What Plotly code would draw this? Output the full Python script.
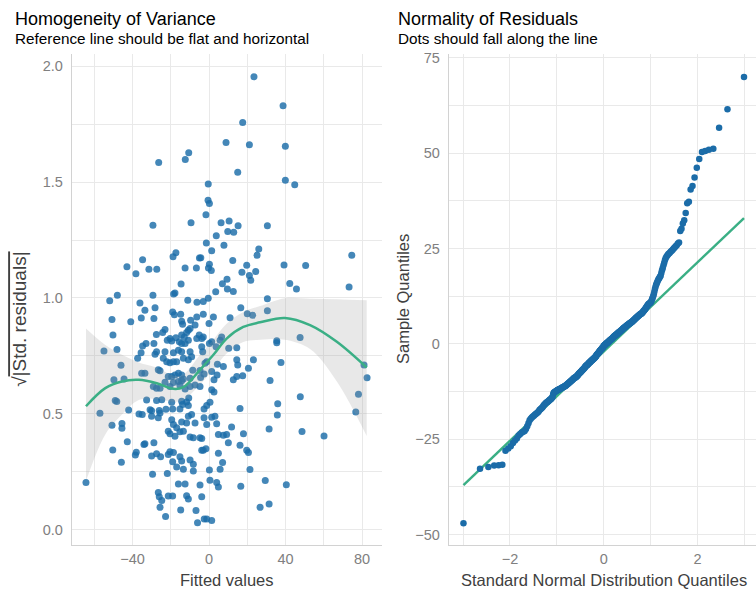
import plotly.graph_objects as go
from statistics import NormalDist

# ---------------------------------------------------------------------------
# Homogeneity of variance: fitted values vs sqrt(|standardized residuals|)
# ---------------------------------------------------------------------------
fitted_values = [
    23.5, 38.7, 17.6, 8.9, 21.1, 39.9, -10.6, -12.4, -26.3, 15.0,
    39.9, 44.8, -0.4, -0.5, 0.2, -1.6, -29.3, -9.4, 6.3, 10.5,
    15.2, 30.5, 9.8, 12.9, 3.8, -1.4, 7.8, 1.4, 26.0, -17.3,
    -18.8, 74.6, -4.3, -5.0, 25.1, -34.7, 12.4, -42.9, -31.4, -27.3,
    -12.5, -6.6, 0.2, -0.3, 1.2, 19.7, 39.2, 50.5, -38.2, 17.2,
    21.1, 24.4, 21.8, 9.4, 7.0, -14.6, 9.6, 12.7, -17.8, -18.5,
    42.2, 45.7, 73.2, -29.3, -47.9, 3.5, -0.4, -11.1, -6.3, 30.5,
    -51.9, -36.1, -50.7, -40.9, -35.4, -50.2, -54.9, -48.1, -35.5, -37.3,
    -46.0, -49.7, -44.4, -49.0, -48.2, -42.0, -57.0, -36.6, -50.7, -45.5,
    -45.5, -42.7, -50.3, -38.0, -38.5, -45.8, -64.3, -34.0,
    -28.2, -33.5, -19.0, -18.1, -14.8, -28.8, -14.3, -13.8, -9.6, -6.4,
    -7.3, -23.0, -24.2, -27.5, -28.8, -32.9, -34.7, -21.8, -20.4, -19.5,
    -17.3, -15.5, -14.3, -12.9, -11.7, -10.8, -9.9, -14.3, -12.5, -10.8,
    -6.4, -5.1, -3.8, -28.2, -27.4, -23.0, -18.6, -16.0, -14.3, -9.9,
    -3.8, -23.9, -22.1, -20.4, -18.6, -16.9, -13.4, -10.8, -9.1, -35.2,
    -33.5, -26.5, -25.6, -21.3, -19.5, -17.8, -16.0, -14.3, -8.5, -4.7,
    -23.0, -18.6, -16.0, -14.3, -13.4, -9.9, -29.1, -27.4, -25.6, -20.4,
    -15.2, -12.5, -9.9, -7.3, -4.7, -32.6, -27.4, -24.7, -19.5, -14.3,
    -11.7, -10.6, -10.8, -30.8, -30.0, -26.0, -22.5, -19.0, -15.2, -13.8,
    -3.0, -3.0, 2.3, 0.0, 16.6, 20.0, 22.8, 11.0, -3.0, 6.6,
    5.8, 1.4, 0.2, 3.7, 10.3, 14.5, -3.3, 23.2, 14.5, 15.0,
    4.4, 7.5, -1.2, -2.1, 1.4, 2.6, 12.7, 14.5, 17.6, 20.6,
    1.4, 2.6, 0.5, -1.2, -2.6, 16.2, -4.4, -2.6, 4.2, 30.5,
    -34.9, -30.0, -26.5, -25.6, -19.5, -18.6, -16.9, -14.3, -11.7, -10.8,
    -9.1, -7.3, -21.3, -20.4, -17.8, -15.2, -13.4, -9.9, -8.2, -4.7,
    -33.5, -28.8, -30.0, -27.4, -25.3, -21.3, -20.4, -18.6, -15.2, -14.3,
    -19.0, -16.9, -13.4, -9.9, -8.2, -8.2, -3.8, -29.5, -21.8, -16.0,
    -12.5, -4.7, -26.5, -26.0, -24.7, -25.6, -21.3, -19.0, -11.7, -10.8,
    -14.8, -6.8, -22.7, -6.0, -2.5,
    -2.6, 1.4, 3.1, -1.2, 4.0, 11.8, 4.9, 7.5, 9.2, 18.0,
    10.1, 16.2, 19.7, 20.6, -3.8, -3.0, -1.6, 4.9, 7.1, 5.8,
    0.2, 21.4, 0.5, 4.0, 4.9, -3.8, 16.6, -1.2, 1.4,
    35.4, 35.4, 47.6, 37.6, 31.9, 35.9, 35.7, 47.7, 31.4, 48.6,
    60.1, 81.0, 82.6, 78.1, 76.7, 29.4, 40.4, 31.4, 26.7,
]
sqrt_abs_std_residuals = [
    1.954, 1.829, 1.757, 1.671, 1.661, 1.655, 1.626, 1.597, 1.584, 1.542,
    1.508, 1.489, 1.492, 1.422, 1.408, 1.359, 1.314, 1.325, 1.325, 1.332,
    1.312, 1.312, 1.287, 1.284, 1.268, 1.237, 1.227, 1.204, 1.211, 1.195,
    1.178, 1.184, 1.174, 1.172, 1.184, 1.165, 1.162, 1.135, 1.124, 1.124,
    1.129, 1.129, 1.145, 1.129, 1.119, 1.141, 1.142, 1.140, 1.104, 1.111,
    1.097, 1.114, 1.077, 1.081, 1.061, 1.060, 1.039, 1.028, 1.021, 1.017,
    1.063, 1.039, 1.047, 1.012, 1.012, 1.027, 0.999, 0.990, 0.982, 0.997,
    0.988, 0.978, 0.907, 0.897, 0.914, 0.840, 0.771, 0.778, 0.764, 0.740,
    0.710, 0.647, 0.651, 0.558, 0.553, 0.517, 0.503, 0.500, 0.451, 0.458,
    0.438, 0.380, 0.344, 0.335, 0.323, 0.291, 0.204, 0.368,
    0.958, 0.947, 0.940, 0.928, 0.930, 0.911, 0.900, 0.887, 0.904, 0.918,
    0.883, 0.864, 0.851, 0.842, 0.804, 0.804, 0.793, 0.818, 0.825, 0.814,
    0.828, 0.811, 0.840, 0.832, 0.851, 0.861, 0.868, 0.804, 0.804, 0.818,
    0.825, 0.840, 0.825, 0.757, 0.768, 0.768, 0.764, 0.775, 0.768, 0.768,
    0.790, 0.740, 0.725, 0.721, 0.725, 0.725, 0.740, 0.733, 0.747, 0.675,
    0.675, 0.690, 0.686, 0.661, 0.661, 0.668, 0.675, 0.668, 0.688, 0.687,
    0.637, 0.635, 0.640, 0.643, 0.651, 0.654, 0.618, 0.611, 0.611, 0.618,
    0.623, 0.607, 0.618, 0.625, 0.618, 0.560, 0.558, 0.561, 0.550, 0.554,
    0.551, 0.568, 0.536, 0.518, 0.513, 0.515, 0.520, 0.521, 0.521, 0.540,
    0.985, 0.930, 0.918, 0.890, 0.958, 0.932, 0.925, 0.915, 0.832, 0.832,
    0.818, 0.811, 0.804, 0.790, 0.783, 0.785, 0.768, 0.733, 0.733, 0.711,
    0.714, 0.704, 0.725, 0.718, 0.683, 0.647, 0.647, 0.661, 0.665, 0.697,
    0.604, 0.594, 0.550, 0.536, 0.521, 0.523, 0.657, 0.672, 0.668, 0.945,
    0.497, 0.490, 0.483, 0.504, 0.475, 0.454, 0.440, 0.465, 0.461, 0.490,
    0.497, 0.461, 0.425, 0.414, 0.404, 0.423, 0.425, 0.400, 0.397, 0.397,
    0.371, 0.375, 0.318, 0.328, 0.315, 0.325, 0.337, 0.333, 0.315, 0.297,
    0.294, 0.271, 0.261, 0.301, 0.283, 0.254, 0.343, 0.240, 0.243, 0.197,
    0.197, 0.193, 0.161, 0.143, 0.126, 0.097, 0.146, 0.146, 0.147, 0.133,
    0.085, 0.083, 0.057, 0.030, 0.047,
    0.483, 0.485, 0.490, 0.454, 0.457, 0.443, 0.411, 0.408, 0.411, 0.414,
    0.375, 0.365, 0.343, 0.333, 0.394, 0.343, 0.350, 0.330, 0.290, 0.261,
    0.258, 0.260, 0.214, 0.204, 0.185, 0.143, 0.188, 0.047, 0.040,
    0.815, 0.807, 0.829, 0.722, 0.644, 0.544, 0.495, 0.574, 0.435, 0.424,
    0.405, 0.711, 0.656, 0.585, 0.508, 0.213, 0.194, 0.111, 0.097,
]

# loess smooth of the scale-location plot and its confidence band
smooth_x = [-64.3, -54.2, -45.5, -36.7, -27.3, -18.7, -13.4, -4.7,
            2.2, 9.2, 17.9, 26.7, 39.7, 52.8, 66.8, 82.4]
smooth_y = [0.533, 0.611, 0.640, 0.647, 0.632, 0.608, 0.615, 0.690,
            0.754, 0.825, 0.875, 0.895, 0.914, 0.883, 0.811, 0.700]
smooth_lower = [0.21, 0.411, 0.497, 0.560, 0.565, 0.552, 0.560, 0.627,
                0.690, 0.761, 0.810, 0.820, 0.820, 0.780, 0.640, 0.405]
smooth_upper = [0.868, 0.797, 0.755, 0.722, 0.700, 0.665, 0.670, 0.755,
                0.820, 0.889, 0.940, 0.965, 0.999, 0.997, 0.995, 0.990]

# ---------------------------------------------------------------------------
# Normality of residuals: sample residuals (sorted) for the QQ plot
# ---------------------------------------------------------------------------
residuals = [
    -47.0, -32.7, -32.3, -31.9, -31.8, -31.7, -28.0, -27.4, -26.8, -26.0,
    -25.3, -24.8, -24.0, -23.6, -23.2, -23.0, -22.8, -22.3, -21.6, -20.8,
    -20.0, -19.6, -19.3, -19.0, -18.8, -18.6, -18.4, -18.2, -18.0, -17.8,
    -17.4, -17.2, -17.0, -16.8, -16.6, -16.3, -16.0, -15.8, -15.6, -15.4,
    -15.3, -15.2,
    -15.0, -14.9, -14.7, -14.6, -14.5, -14.3, -14.1, -13.9, -13.2, -12.8,
    -12.7, -12.6, -12.5, -12.4, -12.3, -12.2,
    -12.1, -12.0, -12.0, -11.9, -11.8, -11.8, -11.7, -11.6, -11.5, -11.5,
    -11.4, -11.3, -11.3, -11.2, -11.1, -11.0, -11.0, -10.9, -10.8,
    -10.7, -10.6, -10.5, -10.4, -10.3, -10.2, -10.1, -10.0, -9.9, -9.8,
    -9.7, -9.6, -9.5, -9.4, -9.3, -9.2, -9.1, -9.0, -8.9, -8.9, -8.8, -8.8,
    -8.7, -8.6, -8.5, -8.4, -8.3, -8.2, -8.0, -7.9, -7.8, -7.7,
    -7.6, -7.5, -7.4, -7.3, -7.2, -7.1, -7.0, -6.9, -6.8, -6.7,
    -6.6, -6.5, -6.4, -6.3, -6.2, -6.0,
    -5.9, -5.8, -5.7, -5.6, -5.6, -5.5, -5.4, -5.3, -5.2, -5.1,
    -5.0, -4.9, -4.9, -4.8, -4.7, -4.6, -4.5, -4.4, -4.3, -4.3,
    -4.2, -4.1, -4.0, -3.9, -3.8, -3.8, -3.7,
    -3.6, -3.5, -3.4, -3.3, -3.2, -3.0, -2.9, -2.8, -2.7, -2.6,
    -2.5, -2.4, -2.3, -2.2, -2.0, -1.9, -1.8, -1.7, -1.6, -1.5,
    -1.4, -1.3, -1.2, -1.1, -1.0, -0.9, -0.8, -0.6,
    -0.5, -0.4, -0.3, -0.3, -0.2, -0.1, 0.0, 0.1, 0.1, 0.2,
    0.3, 0.4, 0.4, 0.5, 0.6, 0.7, 0.7, 0.8, 0.9, 1.0,
    1.0, 1.1, 1.2, 1.3, 1.3, 1.4, 1.5, 1.6, 1.7,
    1.8, 1.9, 2.0, 2.0, 2.1, 2.2, 2.3, 2.3, 2.4, 2.5,
    2.6, 2.6, 2.7, 2.8, 2.9, 2.9, 3.0, 3.1, 3.2, 3.2,
    3.3, 3.4, 3.5, 3.5, 3.6, 3.7, 3.8,
    3.9, 4.0, 4.1, 4.2, 4.2, 4.3, 4.4, 4.5, 4.5, 4.6,
    4.7, 4.8, 4.8, 4.9, 5.0, 5.1, 5.1, 5.2, 5.3, 5.4,
    5.4, 5.5, 5.6, 5.7, 5.7, 5.8,
    5.9, 6.0, 6.1, 6.2, 6.3, 6.4, 6.5, 6.6, 6.7, 6.8,
    6.9, 7.0, 7.1, 7.2, 7.3, 7.4, 7.5, 7.6, 7.7, 7.8, 7.9, 7.9,
    8.0, 8.1, 8.3, 8.4, 8.6, 8.7, 8.9, 9.0, 9.2, 9.4,
    9.6, 9.8, 10.0, 10.2, 10.4, 10.5, 10.6, 10.7, 10.8,
    11.0, 11.3, 11.7, 12.1, 12.5, 13.0, 13.7, 14.4, 15.0, 15.5,
    15.9, 16.3, 16.7, 17.0, 17.3, 17.6,
    17.9, 18.6, 19.3, 19.9, 20.6, 21.3, 22.0, 22.5, 22.9, 23.2,
    23.5, 23.7,
    23.9, 24.2, 24.4, 24.7, 25.0, 25.3, 25.6, 25.9, 26.3, 26.6,
    29.6, 30.2, 31.6, 32.4, 34.3, 36.9, 37.3, 40.5, 41.4, 43.6,
    46.2, 48.5, 50.3, 50.6, 50.9, 51.2, 56.7, 61.5, 70.0,
]

# reference line of the QQ plot
qq_line_intercept = -2.0
qq_line_slope = 11.7

# ---------------------------------------------------------------------------
W, H = 756, 592
DOT = "#1b6ca8"
LINE = "#3aaf85"
FONT = "Liberation Sans, Arial, Helvetica, sans-serif"
GRID = "#e9e9e9"
AXLINE = "#d2d2d2"
TICK = "#808080"
AXTITLE = "#404040"


def px_x(v):
    return v / W


def px_y(v):
    return 1 - v / H


# theoretical normal quantiles for the sorted residuals (ppoints, a = 0.5)
sample_q = sorted(residuals)
n = len(sample_q)
theo_q = [NormalDist().inv_cdf((i - 0.5) / n) for i in range(1, n + 1)]
line_x = [theo_q[0], theo_q[-1]]
line_y = [qq_line_intercept + qq_line_slope * v for v in line_x]

fig = go.Figure()

# left panel ---------------------------------------------------------------
fig.add_trace(go.Scatter(
    x=fitted_values, y=sqrt_abs_std_residuals, mode="markers",
    marker=dict(color=DOT, size=7, opacity=0.82, line=dict(width=0)),
    xaxis="x", yaxis="y", showlegend=False, hoverinfo="skip"))
fig.add_trace(go.Scatter(
    x=smooth_x, y=smooth_lower, mode="lines",
    line=dict(width=0, shape="spline", color="rgba(0,0,0,0)"),
    xaxis="x", yaxis="y", showlegend=False, hoverinfo="skip"))
fig.add_trace(go.Scatter(
    x=smooth_x, y=smooth_upper, mode="lines", fill="tonexty",
    fillcolor="rgba(150,150,150,0.22)",
    line=dict(width=0, shape="spline", color="rgba(0,0,0,0)"),
    xaxis="x", yaxis="y", showlegend=False, hoverinfo="skip"))
fig.add_trace(go.Scatter(
    x=smooth_x, y=smooth_y, mode="lines",
    line=dict(color=LINE, width=2.5, shape="spline"),
    xaxis="x", yaxis="y", showlegend=False, hoverinfo="skip"))

# right panel --------------------------------------------------------------
fig.add_trace(go.Scatter(
    x=line_x, y=line_y, mode="lines",
    line=dict(color=LINE, width=2.4),
    xaxis="x2", yaxis="y2", showlegend=False, hoverinfo="skip"))
fig.add_trace(go.Scatter(
    x=theo_q, y=sample_q, mode="markers",
    marker=dict(color=DOT, size=6.5, line=dict(width=0)),
    xaxis="x2", yaxis="y2", showlegend=False, hoverinfo="skip"))

axis_common = dict(
    showline=True, linecolor=AXLINE, linewidth=1.4, mirror=False,
    showgrid=True, gridcolor=GRID, gridwidth=1.2, zeroline=False,
    ticks="", tickfont=dict(family=FONT, size=14.5, color=TICK),
)
ydom = [px_y(545), px_y(50)]

fig.update_layout(
    width=W, height=H,
    margin=dict(l=0, r=0, t=0, b=0),
    paper_bgcolor="white", plot_bgcolor="white",
    font=dict(family=FONT),
    xaxis=dict(domain=[px_x(72), px_x(382)], range=[-71.6, 90.4],
               tick0=0, dtick=40, ticklabelstandoff=0,
               minor=dict(tick0=0, dtick=20, showgrid=True,
                          gridcolor=GRID, gridwidth=1.2),
               anchor="y", **axis_common),
    yaxis=dict(domain=ydom, range=[-0.067, 2.054],
               tick0=0, dtick=0.5, tickformat=".1f", ticklabelstandoff=5,
               minor=dict(tick0=0, dtick=0.25, showgrid=True,
                          gridcolor=GRID, gridwidth=1.2),
               anchor="x", **axis_common),
    xaxis2=dict(domain=[px_x(449), 1.0], range=[-3.3, 3.247],
                tick0=0, dtick=2, ticklabelstandoff=0,
                minor=dict(tick0=0, dtick=1, showgrid=True,
                           gridcolor=GRID, gridwidth=1.2),
                anchor="y2", **axis_common),
    yaxis2=dict(domain=ydom, range=[-52.8, 76.1],
                tick0=0, dtick=25, ticklabelstandoff=5,
                minor=dict(tick0=0, dtick=12.5, showgrid=True,
                           gridcolor=GRID, gridwidth=1.2),
                anchor="x2", **axis_common),
)

annotations = [
    dict(text="Homogeneity of Variance", x=px_x(13), y=px_y(15.5),
         xanchor="left", yanchor="middle",
         font=dict(size=18, color="#000000")),
    dict(text="Reference line should be flat and horizontal",
         x=px_x(13), y=px_y(34.5), xanchor="left", yanchor="middle",
         font=dict(size=15.3, color="#000000")),
    dict(text="Normality of Residuals", x=px_x(396.5), y=px_y(15.5),
         xanchor="left", yanchor="middle",
         font=dict(size=18, color="#000000")),
    dict(text="Dots should fall along the line",
         x=px_x(396.5), y=px_y(34.5), xanchor="left", yanchor="middle",
         font=dict(size=15.3, color="#000000")),
    dict(text="Fitted values", x=px_x(227), y=px_y(580),
         xanchor="center", yanchor="middle",
         font=dict(size=16.5, color=AXTITLE)),
    dict(text="Standard Normal Distribution Quantiles",
         x=px_x(603.5), y=px_y(580), xanchor="center", yanchor="middle",
         font=dict(size=16.5, color=AXTITLE)),
    dict(text="Sample Quantiles", x=px_x(403.5), y=px_y(297.5),
         xanchor="center", yanchor="middle", textangle=-90,
         font=dict(size=16.5, color=AXTITLE)),
    dict(text="\u221a<span style='text-decoration:overline'>|Std. residuals|</span>",
         x=px_x(20), y=px_y(318), xanchor="center", yanchor="middle",
         textangle=-90, font=dict(size=19, color=AXTITLE)),
]
for a in annotations:
    a.update(xref="paper", yref="paper", showarrow=False)
    a["font"]["family"] = FONT
fig.update_layout(annotations=annotations)

fig.write_html("out.html")
